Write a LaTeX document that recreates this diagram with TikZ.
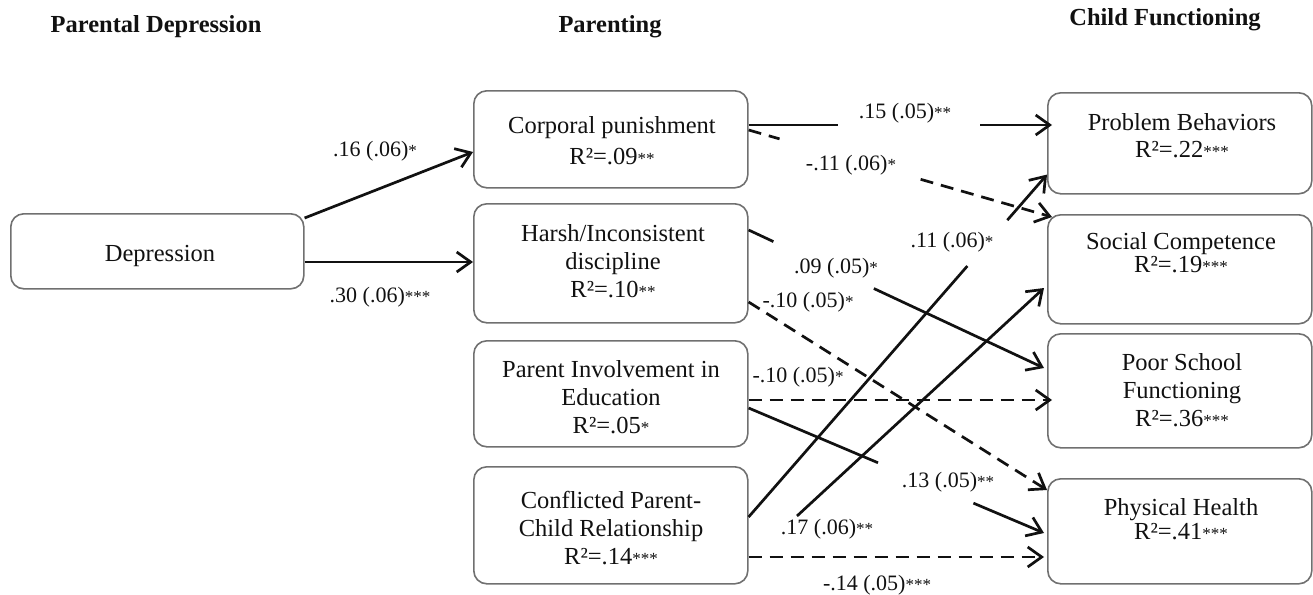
\documentclass[tikz,border=0pt]{standalone}
\usepackage{fontspec}
\setmainfont{Liberation Serif}
\usetikzlibrary{arrows.meta,calc}
\definecolor{boxgray}{HTML}{707070}
\definecolor{ink}{HTML}{111111}
\newcommand{\bfnt}[1]{\fontsize{24.5pt}{#1pt}\selectfont}
\newcommand{\lfnt}{\fontsize{22pt}{26pt}\selectfont}
\newcommand{\sg}[1]{{\fontsize{17pt}{17pt}\selectfont #1}}
\begin{document}
\begin{tikzpicture}[x=1pt,y=-1pt,
  box/.style={draw=boxgray,line width=1.6pt,rounded corners=13pt,inner sep=0pt,anchor=north west},
  txt/.style={align=center,text=ink,inner sep=0pt,font=\bfnt{28}},
  hdr/.style={text=ink,inner sep=0pt,font=\fontsize{24.5pt}{28pt}\selectfont\bfseries},
  lbl/.style={text=ink,inner sep=0pt,font=\lfnt},
  ln/.style={draw=ink,line width=2.7pt},
  arr/.style={ln,-{Straight Barb[length=14pt,width=20pt]}},
  dsh/.style={dash pattern=on 13pt off 8pt}
]
\useasboundingbox (0,0) rectangle (1313,594);

% headers
\node[hdr] (h1) at (156,27) {Parental Depression};
\node[hdr] (h2) at (610,27) {Parenting};
\node[hdr] (h3) at (1165,20) {Child Functioning};

% boxes
\node[box,minimum width=293pt,minimum height=75pt] (dep) at (10,213) {};
\node[box,minimum width=274pt,minimum height=97pt] (corp) at (473,90) {};
\node[box,minimum width=274pt,minimum height=119pt] (harsh) at (473,203) {};
\node[box,minimum width=274pt,minimum height=106pt] (inv) at (473,340) {};
\node[box,minimum width=274pt,minimum height=117pt] (conf) at (473,466) {};
\node[box,minimum width=264pt,minimum height=101pt] (prob) at (1047,92) {};
\node[box,minimum width=264pt,minimum height=109pt] (soc) at (1047,214) {};
\node[box,minimum width=264pt,minimum height=114pt] (poor) at (1047,333) {};
\node[box,minimum width=264pt,minimum height=105pt] (phys) at (1047,478) {};

% box texts
\node[txt] (tdep) at (160,256) {Depression};
\node[txt,font=\bfnt{31}] (tcorp) at (612,141) {Corporal punishment\\R²=.09\sg{**}};
\node[txt] (tharsh) at (613,261) {Harsh/Inconsistent\\discipline\\R²=.10\sg{**}};
\node[txt] (tinv) at (611,397) {Parent Involvement in\\Education\\R²=.05\sg{*}};
\node[txt] (tconf) at (611,528) {Conflicted Parent-\\Child Relationship\\R²=.14\sg{***}};
\node[txt,font=\bfnt{27}] (tprob) at (1182,136) {Problem Behaviors\\R²=.22\sg{***}};
\node[txt,font=\bfnt{23}] (tsoc) at (1181,253) {Social Competence\\R²=.19\sg{***}};
\node[txt] (tpoor) at (1182,390) {Poor School\\Functioning\\R²=.36\sg{***}};
\node[txt,font=\bfnt{24}] (tphys) at (1181,519) {Physical Health\\R²=.41\sg{***}};

% connectors
\draw[arr] (dep.east |- 0,218) -- (corp.west |- 0,152);
\draw[arr] (dep.east |- 0,262) -- (harsh.west |- 0,262);

\coordinate (p1) at (corp.east |- 0,125);
\coordinate (q1) at ($(prob.west |- 0,125)+(5,0)$);
\draw[ln] (p1) -- ($(p1)!0.293!(q1)$);
\draw[arr] ($(p1)!0.763!(q1)$) -- (q1);

\coordinate (p2) at (corp.east |- 0,130);
\coordinate (q2) at ($(soc.north west)+(5,3)$);
\draw[ln,dsh] (p2) -- ($(p2)!0.102!(q2)$);
\draw[arr,dsh] ($(p2)!0.567!(q2)$) -- (q2);

\coordinate (p3) at (harsh.east |- 0,230);
\coordinate (q3) at ($(poor.west |- 0,368)+(-3,0)$);
\draw[ln] (p3) -- ($(p3)!0.084!(q3)$);
\draw[arr] ($(p3)!0.424!(q3)$) -- (q3);

\draw[arr,dsh] (harsh.east |- 0,302) -- ($(phys.north west)+(0,12)$);

\draw[arr,dsh] (inv.east |- 0,400) -- ($(poor.west |- 0,400)+(5,0)$);

\coordinate (p6) at (inv.east |- 0,408);
\coordinate (q6) at ($(phys.west |- 0,533)+(-3,0)$);
\draw[ln] (p6) -- ($(p6)!0.438!(q6)$);
\draw[arr] ($(p6)!0.761!(q6)$) -- (q6);

\coordinate (p7) at (conf.east |- 0,517);
\coordinate (q7) at ($(prob.south west)+(0,-20)$);
\draw[ln] (p7) -- ($(p7)!0.733!(q7)$);
\draw[arr] ($(p7)!0.867!(q7)$) -- (q7);

\coordinate (p8) at (797,516);
\draw[arr] (p8) -- ($(soc.west |- 0,288)+(-3,0)$);

\draw[arr,dsh] (conf.east |- 0,557) -- ($(phys.west |- 0,557)+(-3,0)$);

% labels
\node[lbl] (l1) at (375,151) {.16 (.06)\sg{*}};
\node[lbl] (l2) at (380,297) {.30 (.06)\sg{***}};
\node[lbl] (l3) at (905,113) {.15 (.05)\sg{**}};
\node[lbl] (l4) at (851,165) {-.11 (.06)\sg{*}};
\node[lbl] (l5) at (952,242) {.11 (.06)\sg{*}};
\node[lbl] (l6) at (836,268) {.09 (.05)\sg{*}};
\node[lbl] (l7) at (808,302) {-.10 (.05)\sg{*}};
\node[lbl] (l8) at (798,377) {-.10 (.05)\sg{*}};
\node[lbl] (l9) at (948,482) {.13 (.05)\sg{**}};
\node[lbl] (l10) at (827,529) {.17 (.06)\sg{**}};
\node[lbl] (l11) at (877,585) {-.14 (.05)\sg{***}};
\end{tikzpicture}
\end{document}
